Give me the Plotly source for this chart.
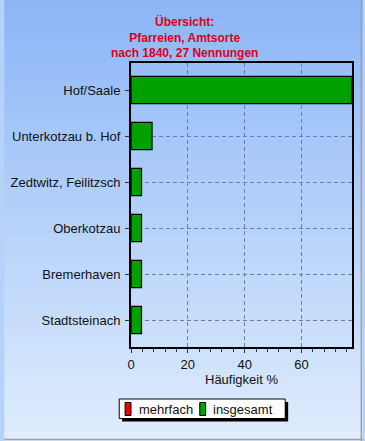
import plotly.graph_objects as go

categories = ["Hof/Saale", "Unterkotzau b. Hof", "Zedtwitz, Feilitzsch",
              "Oberkotzau", "Bremerhaven", "Stadtsteinach"]
insgesamt = [77.78, 7.41, 3.70, 3.70, 3.70, 3.70]
mehrfach = [0, 0, 0, 0, 0, 0]
x_ticks = [0, 20, 40, 60]
title_lines = ["Übersicht:", "Pfarreien, Amtsorte", "nach 1840, 27 Nennungen"]
series_names = ["mehrfach", "insgesamt"]
series_colors = ["#ee0000", "#00a000"]

W, H = 365, 441
L, R, T, B = 129, 11, 63, 94
PW, PH = W - L - R, H - T - B
FONT = "Liberation Sans, Arial, sans-serif"

def px_x(x):
    return (x - L) / PW

def px_y(y):
    return (H - B - y) / PH

fig = go.Figure()
fig.add_trace(go.Bar(
    y=categories, x=mehrfach, orientation="h", name=series_names[0],
    marker=dict(color=series_colors[0], line=dict(color="black", width=1)),
    width=0.59, showlegend=False,
))
fig.add_trace(go.Bar(
    y=categories, x=insgesamt, orientation="h", name=series_names[1],
    marker=dict(color=series_colors[1], line=dict(color="black", width=1.2)),
    width=0.59, showlegend=False,
))

shapes = []
# vertical gradient background
top = (141, 182, 247)
bot = (222, 236, 253)
n = 49
for i in range(n):
    t = i / (n - 1)
    c = tuple(round(top[k] + (bot[k] - top[k]) * t) for k in range(3))
    y0 = i * H / n
    y1 = (i + 1) * H / n + 0.6
    shapes.append(dict(type="rect", xref="paper", yref="paper",
                       x0=px_x(0), x1=px_x(W), y0=px_y(y1), y1=px_y(y0),
                       fillcolor="rgb(%d,%d,%d)" % c, line=dict(width=0),
                       layer="below"))
# figure border (3D look)
shapes.append(dict(type="line", xref="paper", yref="paper",
                   x0=px_x(363.5), x1=px_x(363.5), y0=px_y(441), y1=px_y(0),
                   line=dict(color="#a0a0a0", width=1.5), layer="above"))
shapes.append(dict(type="line", xref="paper", yref="paper",
                   x0=px_x(0), x1=px_x(365), y0=px_y(439.5), y1=px_y(439.5),
                   line=dict(color="#a0a0a0", width=1.5), layer="above"))
# legend: shadow, box, markers
shapes.append(dict(type="rect", xref="paper", yref="paper",
                   x0=px_x(120), x1=px_x(289), y0=px_y(421.5), y1=px_y(402),
                   fillcolor="black", line=dict(width=0), layer="above"))
shapes.append(dict(type="rect", xref="paper", yref="paper",
                   x0=px_x(117), x1=px_x(286), y0=px_y(418.5), y1=px_y(399),
                   fillcolor="white", line=dict(color="black", width=1), layer="above"))
marker_x = [123, 199]
text_x = [135, 210.5]
annotations = []
for mx, tx, name, col in zip(marker_x, text_x, series_names, series_colors):
    shapes.append(dict(type="rect", xref="paper", yref="paper",
                       x0=px_x(mx), x1=px_x(mx + 6), y0=px_y(415.5), y1=px_y(402.5),
                       fillcolor=col, line=dict(color="black", width=1), layer="above"))
    annotations.append(dict(text=name, xref="paper", yref="paper",
                            x=px_x(tx), y=px_y(409), xanchor="left", yanchor="middle",
                            showarrow=False,
                            font=dict(family=FONT, size=13, color="#111111")))
# title (one block of three lines)
annotations.append(dict(text="<br>".join(title_lines), xref="paper", yref="paper",
                        x=px_x(183), y=px_y(37.5), xanchor="center", yanchor="middle",
                        showarrow=False, align="center",
                        font=dict(family=FONT, size=12, color="#dd0018",
                                  weight="bold")))

fig.update_layout(
    width=W, height=H,
    margin=dict(l=L, r=R, t=T, b=B, pad=0),
    paper_bgcolor="rgb(180,210,250)",
    plot_bgcolor="rgba(0,0,0,0)",
    barmode="overlay",
    font=dict(family=FONT, size=13, color="#111111"),
    shapes=shapes,
    annotations=annotations,
    showlegend=False,
    xaxis=dict(range=[0, 77.78], tickvals=x_ticks, showgrid=True,
               gridcolor="#6a7ea6", griddash="4px,3px", gridwidth=1,
               showline=True, linecolor="black", linewidth=2, mirror=True,
               ticks="outside", ticklen=4, tickcolor="#333",
               minor=dict(dtick=4, ticks="outside", ticklen=3, tickcolor="#333",
                          showgrid=False),
               zeroline=False, fixedrange=True,
               title=dict(text="Häufigkeit %", standoff=4,
                          font=dict(size=13, color="#111111"))),
    yaxis=dict(range=[5.587, -0.587], type="category", showgrid=True,
               gridcolor="#6a7ea6", griddash="4px,3px", gridwidth=1,
               showline=True, linecolor="black", linewidth=2, mirror=True,
               ticks="outside", ticklen=4, tickcolor="#333",
               ticklabelstandoff=2, fixedrange=True),
)

fig.write_html("out.html", config={"displayModeBar": False},
               post_script="document.body.style.margin='0';")
